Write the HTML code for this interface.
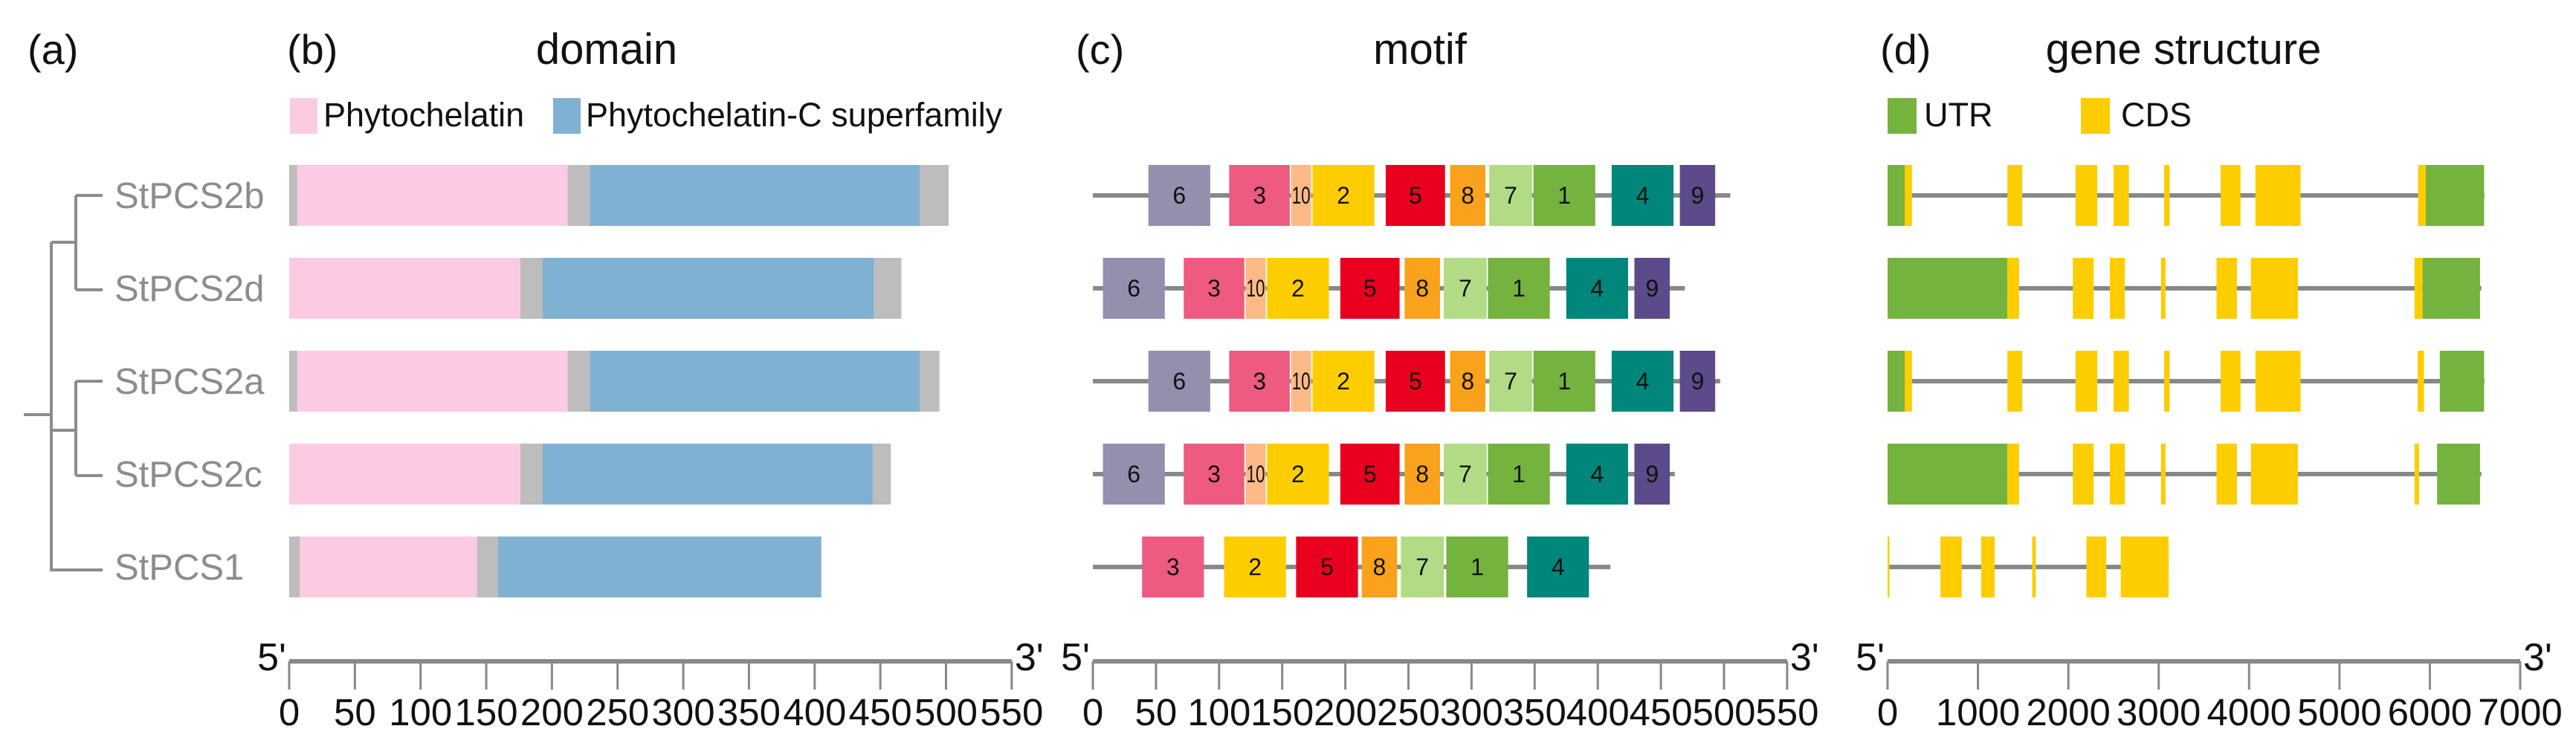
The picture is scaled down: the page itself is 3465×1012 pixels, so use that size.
<!DOCTYPE html>
<html><head><meta charset="utf-8"><style>
html,body{margin:0;padding:0;background:#fff;}
svg{display:block;font-family:"Liberation Sans",sans-serif;}
</style></head><body>
<svg id="fig" width="3465" height="1012" viewBox="0 0 3465 1012" xmlns="http://www.w3.org/2000/svg">
<g font-size="56" fill="#111">
<text x="37" y="86">(a)</text>
<text x="386" y="86">(b)</text>
<text x="1447" y="86">(c)</text>
<text x="2529" y="86">(d)</text>
<text x="816" y="86" text-anchor="middle" font-size="58">domain</text>
<text x="1910" y="86" text-anchor="middle" font-size="58">motif</text>
<text x="2937" y="86" text-anchor="middle" font-size="58">gene structure</text>
</g>
<g font-size="45" fill="#111">
<rect x="390" y="132" width="37" height="48" fill="#FCCAE3"/>
<text x="435" y="170">Phytochelatin</text>
<rect x="744" y="132" width="37" height="48" fill="#80B1D3"/>
<text x="788" y="170">Phytochelatin-C superfamily</text>
</g>
<g font-size="45" fill="#111">
<rect x="2539" y="132" width="39" height="48" fill="#74B33E"/>
<text x="2588" y="170">UTR</text>
<rect x="2799" y="132" width="39" height="48" fill="#FDCD00"/>
<text x="2853" y="170">CDS</text>
</g>
<g stroke="#8c8c8c" stroke-width="4" fill="none">
<path d="M102 263 H138 M102 390 H138 M102 263 V390 M69 326 H102"/>
<path d="M102 513 H138 M102 640 H138 M102 513 V640 M69 579 H102"/>
<path d="M69 326 V767 H138 M32 558 H69"/>
</g>
<g id="labels" font-size="49" fill="#8c8c8c"></g>
<g id="domain"></g>
<g id="motif"></g>
<g id="gene"></g>
<g id="axes"></g>
</svg>
<script>
const genes = ["StPCS2b","StPCS2d","StPCS2a","StPCS2c","StPCS1"];
const proteinLength = [502, 466, 495, 458, 405];
const phytoStart = [6, 0, 6, 0, 8];
const phytoEnd = [212, 176, 212, 176, 143];
const phytoCStart = [229, 193, 229, 193, 159];
const phytoCEnd = [480, 445, 480, 444, 405];
const motifIds = [
 [6,3,10,2,5,8,7,1,4,9],[6,3,10,2,5,8,7,1,4,9],[6,3,10,2,5,8,7,1,4,9],[6,3,10,2,5,8,7,1,4,9],[3,2,5,8,7,1,4]];
const motifStarts = [
 [44,108,157,174,232,283,314,349,411,465],
 [8,72,121,138,196,247,278,313,375,429],
 [44,108,157,174,232,283,314,349,411,465],
 [8,72,121,138,196,247,278,313,375,429],
 [39,104,161,213,244,280,344]];
const motifEnds = [
 [93,156,173,223,279,311,348,398,460,493],
 [57,120,137,187,243,275,312,362,424,457],
 [93,156,173,223,279,311,348,398,460,493],
 [57,120,137,187,243,275,312,362,424,457],
 [88,153,210,241,278,329,393]];
const motifLineEnd = [505, 469, 497, 461, 410];
const motifColors = {1:"#74B33E",2:"#FDCD00",3:"#EF5B80",4:"#00867A",5:"#E9001F",6:"#948FAD",7:"#B2DB86",8:"#FAA21B",9:"#5C4A8A",10:"#FDBA86"};
const geneLength = [6604, 6570, 6604, 6570, 3110];
const featType = [
 ["UTR","CDS","CDS","CDS","CDS","CDS","CDS","CDS","CDS","UTR"],
 ["UTR","CDS","CDS","CDS","CDS","CDS","CDS","CDS","UTR"],
 ["UTR","CDS","CDS","CDS","CDS","CDS","CDS","CDS","CDS","UTR"],
 ["UTR","CDS","CDS","CDS","CDS","CDS","CDS","CDS","UTR"],
 ["CDS","CDS","CDS","CDS","CDS","CDS"]];
const featStart = [
 [0,190,1325,2080,2500,3060,3685,4070,5870,5955],
 [0,1325,2050,2460,3025,3640,4020,5830,5920],
 [0,190,1325,2080,2500,3060,3685,4070,5865,6110],
 [0,1325,2050,2460,3025,3640,4020,5830,6080],
 [0,585,1035,1600,2200,2580]];
const featEnd = [
 [190,270,1490,2320,2670,3120,3905,4570,5955,6600],
 [1325,1455,2280,2625,3075,3865,4540,5920,6555],
 [190,270,1490,2320,2670,3120,3905,4570,5935,6600],
 [1325,1455,2280,2625,3075,3865,4540,5880,6555],
 [20,820,1185,1640,2420,3110]];
const aaTicks = [0,50,100,150,200,250,300,350,400,450,500,550];
const bpTicks = [0,1000,2000,3000,4000,5000,6000,7000];

const NS="http://www.w3.org/2000/svg";
function mk(tag, attrs, parent){const e=document.createElementNS(NS,tag);for(const k in attrs)e.setAttribute(k,attrs[k]);parent.appendChild(e);return e;}
const xDom = v => 389 + v*1.767;
const xMot = v => 1470 + v*1.698;
const xGene = v => 2539 + v*0.12157;
const yRow = i => 263 + 125*i;
const H = 82;

const lab=document.getElementById('labels'), dom=document.getElementById('domain'), mot=document.getElementById('motif'), gen=document.getElementById('gene'), ax=document.getElementById('axes');
genes.forEach((g,i)=>{
  const y=yRow(i);
  const t=mk('text',{x:154,y:y+17},lab); t.textContent=g;
  
  
  let r=mk('rect',{x:xDom(0),y:y-H/2,width:xDom(proteinLength[i])-xDom(0),height:H,fill:"#BDBDBD"},dom);
  
  
  r=mk('rect',{x:xDom(phytoStart[i]),y:y-H/2,width:xDom(phytoEnd[i])-xDom(phytoStart[i]),height:H,fill:"#FCCAE3"},dom);
  
  
  r=mk('rect',{x:xDom(phytoCStart[i]),y:y-H/2,width:xDom(phytoCEnd[i])-xDom(phytoCStart[i]),height:H,fill:"#80B1D3"},dom);
  
  
  let l=mk('rect',{x:xMot(0),y:y-3,width:xMot(motifLineEnd[i])-xMot(0),height:6,fill:"#888"},mot);
  
  
  motifIds[i].forEach((m,j)=>{
    const x0=xMot(motifStarts[i][j]), x1=xMot(motifEnds[i][j]);
    const b=mk('rect',{x:x0,y:y-H/2,width:x1-x0,height:H,fill:motifColors[m]},mot);
    
    
    const tt=mk('text',{x:(x0+x1)/2,y:y+11,'text-anchor':'middle','font-size':32,fill:'#111'},mot);
    if(m===10){tt.setAttribute('textLength',x1-x0-2);tt.setAttribute('lengthAdjust','spacingAndGlyphs');}
    tt.textContent=m;
    
    
  });
  l=mk('rect',{x:xGene(0),y:y-3,width:xGene(geneLength[i])-xGene(0),height:6,fill:"#888"},gen);
  
  
  featType[i].forEach((f,j)=>{
    const x0=xGene(featStart[i][j]), x1=xGene(featEnd[i][j]);
    const b=mk('rect',{x:x0,y:y-H/2,width:Math.max(2,x1-x0),height:H,fill:f==="UTR"?"#74B33E":"#FDCD00"},gen);
    
    
  });
});
function axis(name, scale, ticks, maxV){
  const g=mk('g',{},ax);
  
  
  const x0=scale(0), x1=scale(maxV);
  mk('rect',{x:x0,y:887,width:x1-x0,height:6,fill:"#888"},g);
  ticks.forEach(v=>{
    const x=scale(v);
    mk('rect',{x:x-1.5,y:890,width:3,height:38,fill:"#888"},g);
    const t=mk('text',{x:x,y:976,'text-anchor':'middle','font-size':51,fill:'#111'},g);
    t.textContent=v;
    
    
  });
  const a=mk('text',{x:x0-4,y:902,'text-anchor':'end','font-size':52,fill:'#111'},g); a.textContent="5'";
  
  
  const b=mk('text',{x:x1+4,y:902,'font-size':52,fill:'#111'},g); b.textContent="3'";
  
  
}
axis('domain-axis', xDom, aaTicks, 550);
axis('motif-axis', xMot, aaTicks, 550);
axis('gene-axis', xGene, bpTicks, 7000);
</script>
</body></html>
